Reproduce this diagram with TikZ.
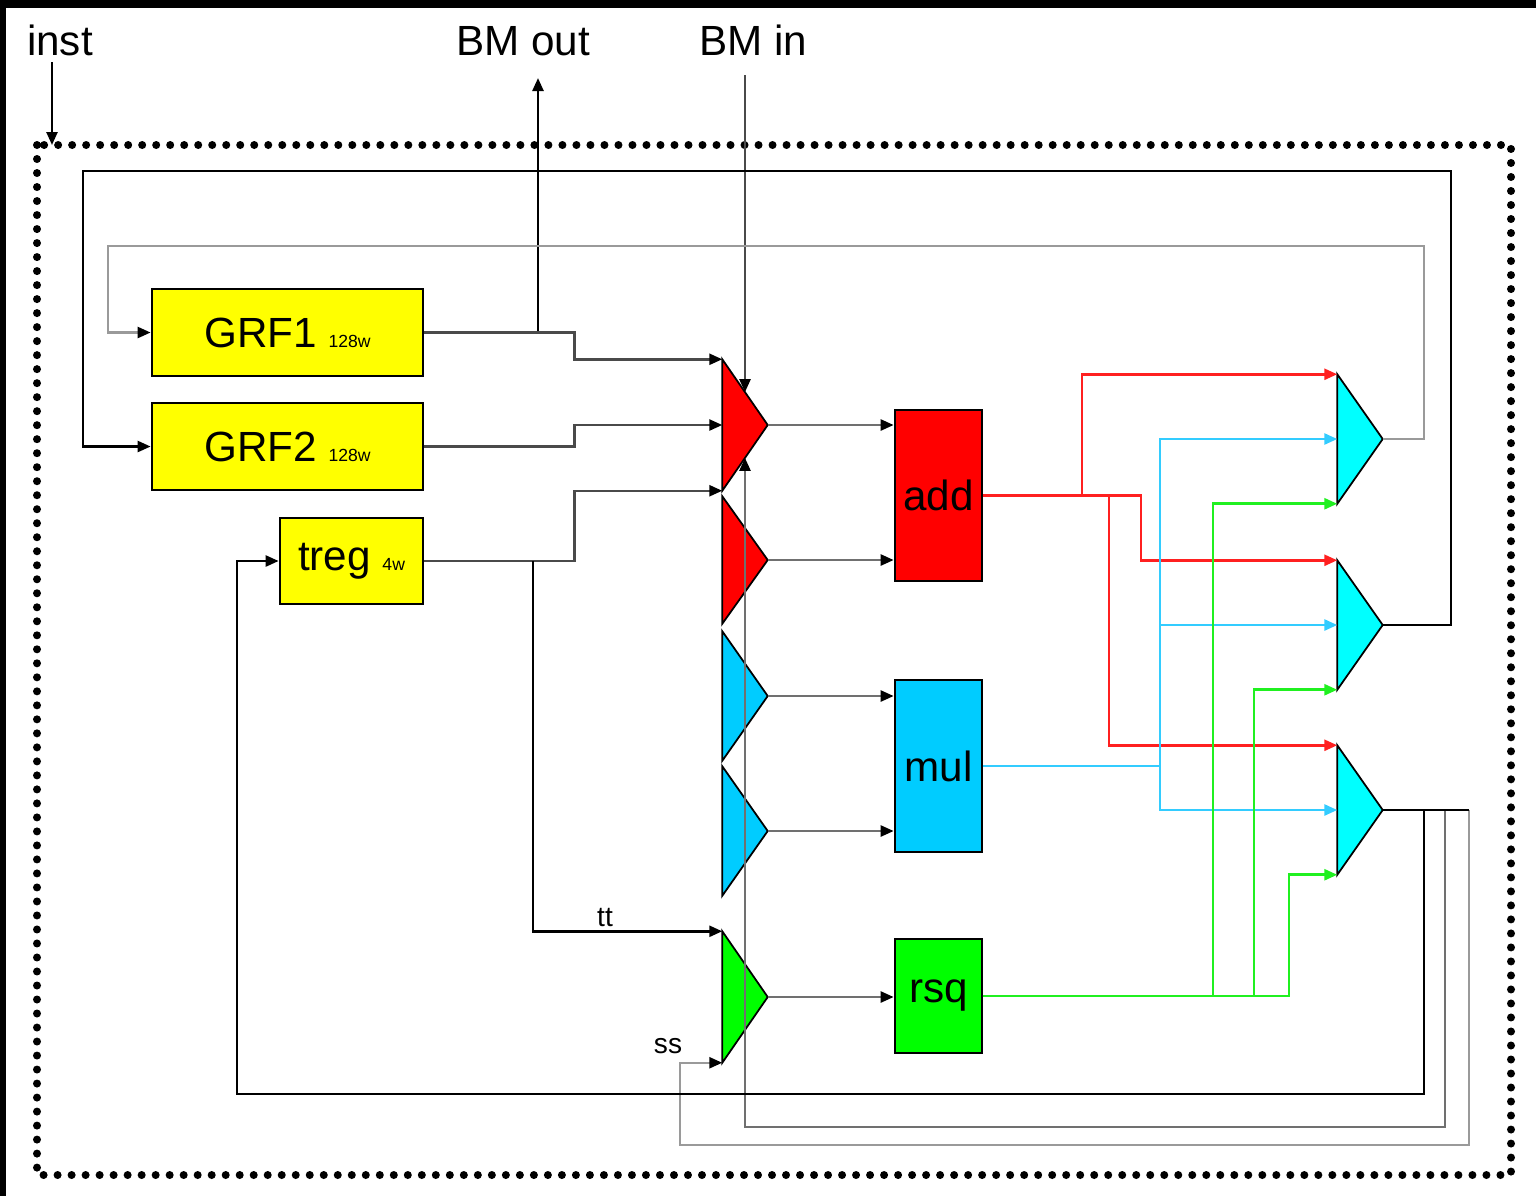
\documentclass[tikz,border=0pt]{standalone}
\usepackage{fontspec}
\setmainfont{Liberation Sans}
\usetikzlibrary{arrows.meta,calc}
\definecolor{cyel}{HTML}{FFFF00}
\definecolor{cred}{HTML}{FF0000}
\definecolor{cblue}{HTML}{00CCFF}
\definecolor{ccyan}{HTML}{00FFFF}
\definecolor{cgreen}{HTML}{00FF00}
\definecolor{wblue}{HTML}{33CCFF}
\definecolor{wred}{HTML}{FF2020}
\definecolor{wgreen}{HTML}{20F020}
\definecolor{gdark}{HTML}{4A4A4A}
\definecolor{gmid}{HTML}{707070}
\definecolor{glight}{HTML}{9A9A9A}
\newcommand\muxshape[2]{\draw[line width=0.5pt, fill=#2] (#1.north west) -- (#1.east) -- (#1.south west) -- cycle;}
\begin{document}
\begin{tikzpicture}[x=0.01cm,y=-0.01cm,
  lbl/.style={inner sep=0pt, font=\fontsize{12}{14}\selectfont},
  small/.style={inner sep=0pt, font=\fontsize{8}{9}\selectfont},
  box/.style={draw=black, line width=0.75pt, inner sep=0pt, font=\fontsize{12}{14}\selectfont},
  mux/.style={inner sep=0pt, minimum width=0.44cm, minimum height=1.28cm},
  tipk/.style={-{Triangle[length=0.13cm,width=0.11cm,color=black]}},
  tipc/.style={-{Triangle[length=0.13cm,width=0.11cm]}},
  kw/.style={line width=0.7pt, draw=black},
  dw/.style={line width=0.7pt, draw=gdark},
  mw/.style={line width=0.7pt, draw=gmid},
  lw/.style={line width=0.7pt, draw=glight},
  rw/.style={line width=0.75pt, draw=wred},
  bw/.style={line width=0.75pt, draw=wblue},
  gw/.style={line width=0.75pt, draw=wgreen},
  dotborder/.style={line width=0.08cm, line cap=round, dash pattern=on 0pt off 0.14cm}
]
\useasboundingbox (0,0) rectangle (1536,1196);
\fill[black] (0,0) rectangle (1536,1196);
\fill[white] (6,8) rectangle (1536,1196);
\draw[dotborder] (37,145) rectangle (1511,1175);

% top labels
\node[lbl, anchor=base] (inst) at (60,55) {inst};
\node[lbl, anchor=base] (bmout) at (523,55) {BM out};
\node[lbl, anchor=base] (bmin) at (753,55) {BM in};

% register files
\node[box, fill=cyel, minimum width=2.71cm, minimum height=0.87cm] (grf1) at (287.5,332.5) {GRF1 {\fontsize{5}{6}\selectfont 128w}};
\node[box, fill=cyel, minimum width=2.71cm, minimum height=0.87cm] (grf2) at (287.5,446.5) {GRF2 {\fontsize{5}{6}\selectfont 128w}};
\node[box, fill=cyel, minimum width=1.43cm, minimum height=0.86cm] (treg) at (351.5,561) {treg {\fontsize{5}{6}\selectfont 4w}};

% units
\node[box, fill=cred, minimum width=0.87cm, minimum height=1.71cm] (add) at (938.5,495.5) {add};
\node[box, fill=cblue, minimum width=0.87cm, minimum height=1.72cm] (mul) at (938.5,766) {mul};
\node[box, fill=cgreen, minimum width=0.87cm, minimum height=1.14cm] (rsq) at (938.5,996) {rsq};

% muxes
\node[mux, minimum height=1.3cm] (mr1) at (745,425) {};
\node[mux, minimum height=1.26cm] (mr2) at (745,560) {};
\node[mux] (mb1) at (745,696) {};
\node[mux] (mb2) at (745,831) {};
\node[mux, minimum height=1.3cm] (mg) at (745,997) {};
\node[mux] (mc1) at (1360,439) {};
\node[mux] (mc2) at (1360,625) {};
\node[mux] (mc3) at (1360,810) {};
\muxshape{mr1}{cred}
\muxshape{mr2}{cred}
\muxshape{mb1}{cblue}
\muxshape{mb2}{cblue}
\muxshape{mg}{cgreen}
\muxshape{mc1}{ccyan}
\muxshape{mc2}{ccyan}
\muxshape{mc3}{ccyan}

% labels on wires
\node[small] (tt) at (605,917) {tt};
\node[small] (ss) at (668,1046) {ss};

% coordinates
\coordinate (instTop) at (52,62);
\coordinate (instEnd) at (52,145);
\coordinate (bmoJ) at (538,332.5);
\coordinate (bmoEnd) at (538,78);
\coordinate (bmiTop) at (745,75);
\coordinate (bmiEnd) at ($(mr1.north west)!0.5!(mr1.east)$);
\coordinate (loopEnd) at ($(mr1.south west)!0.5!(mr1.east)$);
\coordinate (ttJ) at (533,561);
\coordinate (c3end) at (1469,810);

% external
\draw[kw, tipk] (instTop) -- (instEnd);
\draw[kw, tipk] (bmoJ) -- (bmoEnd);
\draw[dw, tipk] (bmiTop) -- (bmiEnd);

% register outputs to mux
\draw[dw, tipk] (grf1.east) -- ++(150,0) |- (mr1.north west);
\draw[dw, tipk] (grf2.east) -- ++(150,0) |- (mr1.west);
\draw[dw, tipk] (treg.east) -- ++(150,0) |- (mr1.south west);
\draw[kw, tipk] (ttJ) |- (mg.north west);

% mux to units
\draw[mw, tipk] (mr1.east) -- (mr1.east -| add.west);
\draw[mw, tipk] (mr2.east) -- (mr2.east -| add.west);
\draw[mw, tipk] (mb1.east) -- (mb1.east -| mul.west);
\draw[mw, tipk] (mb2.east) -- (mb2.east -| mul.west);
\draw[mw, tipk] (mg.east) -- (mg.east -| rsq.west);

% add outputs
\draw[rw, tipc] (add.east) -- (1141,495.5) |- (mc2.north west);
\draw[rw, tipc] (1082,495.5) |- (mc1.north west);
\draw[rw, tipc] (1109,495.5) |- (mc3.north west);

% mul outputs
\draw[bw, tipc] (mul.east) -| (1160,439) -- (mc1.west);
\draw[bw, tipc] (1160,625) -- (mc2.west);
\draw[bw, tipc] (1160,766) |- (mc3.west);

% rsq outputs
\draw[gw, tipc] (rsq.east) -- (1289,996) |- (mc3.south west);
\draw[gw, tipc] (1213,996) |- (mc1.south west);
\draw[gw, tipc] (1254,996) |- (mc2.south west);

% feedback loops
\draw[lw, tipk] (mc1.east) -- (1424,439) -- (1424,246) -- (108,246) |- (grf1.west);
\draw[kw, tipk] (mc2.east) -- (1451,625) -- (1451,171) -- (83,171) |- (grf2.west);
\draw[lw, tipk] (c3end) -- (1469,1145) -- (680,1145) |- (mg.south west);
\draw[mw, tipk] (1445,810) -- (1445,1127) -- (745,1127) -- (loopEnd);
\draw[kw, tipk] (1424,810) -- (1424,1094) -- (237,1094) |- (treg.west);
\draw[kw] (mc3.east) -- (c3end);
\end{tikzpicture}
\end{document}
